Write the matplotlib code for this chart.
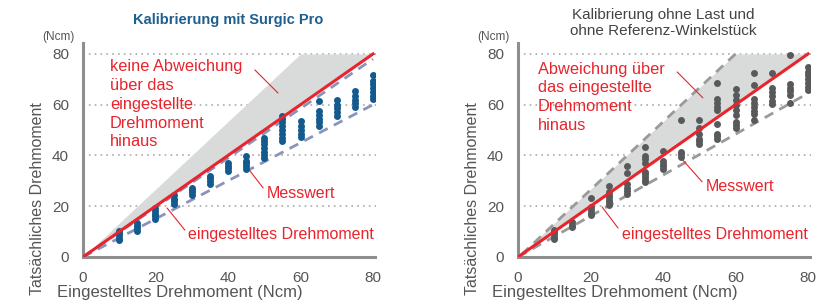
import numpy as np
import matplotlib
matplotlib.use("Agg")
import matplotlib.pyplot as plt

plt.rcParams['font.family'] = ['Liberation Sans', 'DejaVu Sans']

# ---- data ----
set_torque = [10, 15, 20, 25, 30, 35, 40, 45, 50, 55, 60, 65, 70, 75, 80]

# Kalibrierung mit Surgic Pro (blue points)
surgic_vals = [
    [6.5, 7.5, 8.5, 9.5, 10.2],
    [10.3, 11.3, 12.3, 13.5],
    [14.8, 16.0, 17.0, 18.0, 19.3],
    [21.0, 22.0, 23.0, 24.3],
    [24.3, 25.5, 26.5, 27.2],
    [28.9, 30.0, 31.0, 31.8],
    [33.9, 35.0, 36.0, 37.2],
    [34.8, 36.0, 37.0, 38.0, 39.6],
    [39.0, 40.2, 41.5, 43.0, 44.5, 45.5, 46.8],
    [45.8, 47.0, 48.5, 50.0, 51.5, 53.0, 54.2, 55.6],
    [47.2, 48.5, 50.0, 51.5, 53.7],
    [51.8, 53.0, 54.5, 56.0, 57.5, 61.5],
    [55.7, 57.0, 58.5, 60.0, 61.8],
    [59.0, 60.5, 62.0, 63.4, 65.5],
    [62.3, 63.5, 65.0, 66.5, 68.0, 69.5, 71.7],
]

# Kalibrierung ohne Last und ohne Referenz-Winkelstueck (grey points)
noload_vals = [
    [7.0, 8.0, 9.0, 10.0, 10.6],
    [11.8, 12.6, 13.6],
    [16.6, 17.5, 18.5, 19.5, 23.2],
    [20.5, 21.5, 22.5, 23.5, 24.5, 25.5, 27.8],
    [24.8, 26.0, 27.0, 28.6, 33.0, 35.8],
    [29.5, 30.5, 31.5, 32.5, 33.3, 37.0, 38.6, 39.8, 43.5],
    [34.7, 35.7, 36.7, 37.7, 41.8],
    [39.4, 40.5, 41.2, 54.0],
    [44.5, 45.5, 46.5, 48.5, 50.8, 54.0],
    [46.5, 47.5, 48.5, 52.3, 57.9, 59.0, 60.5, 62.1, 68.5],
    [51.0, 52.0, 53.2, 56.0, 58.0, 60.0, 62.0, 64.0, 66.0],
    [54.0, 56.3, 57.5, 59.0, 60.5, 62.2, 67.6, 72.5],
    [60.2, 61.5, 63.5, 65.0, 66.7, 72.5],
    [60.8, 64.0, 65.2, 66.5, 68.0, 79.7],
    [65.8, 67.0, 68.5, 70.0, 71.5, 73.0, 74.7],
]

ideal = [0, 80]
# tolerance band lines (x, y)
surgic_upper_x, surgic_upper_y = [0, 80], [0, 78]
surgic_lower_x, surgic_lower_y = [0, 80], [0, 60]
shade_x = [0, 60, 80]
shade_bottom = [0, 60, 80]
shade_top = [0, 80, 80]
noload_upper_x, noload_upper_y = [1, 60], [1, 80]
noload_lower_x, noload_lower_y = [0, 80], [0, 64.5]

RED = '#e8242c'
BLUE = '#135a8f'
DGREY = '#58595b'
SPINE = '#8e8e8e'
TXT = '#555555'

fig = plt.figure(figsize=(8.2, 3.05), dpi=100)
ax1 = fig.add_axes([0.1012, 0.1574, 0.3559, 0.7016])
ax2 = fig.add_axes([0.6317, 0.1574, 0.3559, 0.7016])


def style(ax):
    ax.set_xlim(0, 80.5)
    ax.set_ylim(0, 84.3)
    for s in ['top', 'right']:
        ax.spines[s].set_visible(False)
    for s in ['left', 'bottom']:
        ax.spines[s].set_color(SPINE)
        ax.spines[s].set_linewidth(2.2)
    ax.set_xticks([0, 20, 40, 60, 80])
    ax.set_yticks([0, 20, 40, 60, 80])
    ax.tick_params(length=0, labelsize=11, labelcolor=TXT, pad=10)
    for g in [20, 40, 60, 80]:
        ax.plot([0, 80.8], [g, g], color='#aaaaaa', lw=1.2,
                ls=(0, (1, 2.5)), zorder=1, clip_on=False)
    ax.text(-0.083, 1.0, '(Ncm)', transform=ax.transAxes, fontsize=8.5,
            color=TXT, ha='center', va='bottom')


def points(ax, vals, color):
    xs, ys = [], []
    for x, col in zip(set_torque, vals):
        xs += [x] * len(col)
        ys += col
    ax.scatter(xs, ys, s=25, color=color, zorder=4, linewidths=0)


def leader(ax, start, end):
    ax.annotate('', xy=end, xytext=start,
                arrowprops=dict(arrowstyle='-', color=RED, lw=0.8,
                                shrinkA=0, shrinkB=0))


# ---- left chart ----
style(ax1)
ax1.fill_between(shade_x, shade_bottom, shade_top,
                 color='#d9dada', lw=0, zorder=2)
ax1.plot(surgic_upper_x, surgic_upper_y, color='#8b93bc', lw=2,
         ls=(0, (3.5, 2.5)), zorder=3)
ax1.plot(surgic_lower_x, surgic_lower_y, color='#8b93bc', lw=2,
         ls=(0, (3.5, 2.5)), zorder=3)
points(ax1, surgic_vals, BLUE)
ax1.plot(ideal, ideal, color=RED, lw=2.2, zorder=5)
leader(ax1, (47.4, 73.7), (53.8, 64.6))
ax1.text(7.4, 78.0, 'keine Abweichung\nüber das\neingestellte\nDrehmoment\nhinaus',
         color=RED, fontsize=11.8, ha='left', va='top', linespacing=1.32,
         zorder=6)
leader(ax1, (49.7, 27.2), (45.2, 35.5))
ax1.text(50.8, 25.2, 'Messwert', color=RED, fontsize=11.5, va='center')
leader(ax1, (28.1, 10.6), (23.2, 19.3))
ax1.text(29.0, 8.7, 'eingestelltes Drehmoment', color=RED, fontsize=11.5,
         va='center')

# ---- right chart ----
style(ax2)
ax2.fill_between(shade_x, shade_bottom, shade_top,
                 color='#d9dada', lw=0, zorder=2)
ax2.plot(noload_upper_x, noload_upper_y, color='#9a9a9a', lw=2,
         ls=(0, (3.5, 2.5)), zorder=3)
ax2.plot(noload_lower_x, noload_lower_y, color='#9a9a9a', lw=2,
         ls=(0, (3.5, 2.5)), zorder=3)
points(ax2, noload_vals, DGREY)
ax2.plot(ideal, ideal, color=RED, lw=2.2, zorder=5)
leader(ax2, (43.9, 72.9), (51.0, 62.7))
ax2.text(5.5, 77.0, 'Abweichung über\ndas eingestellte\nDrehmoment\nhinaus',
         color=RED, fontsize=11.8, ha='left', va='top', linespacing=1.32,
         zorder=6)
leader(ax2, (50.8, 29.6), (45.2, 38.6))
ax2.text(51.9, 27.6, 'Messwert', color=RED, fontsize=11.5, va='center')
leader(ax2, (27.6, 11.4), (23.2, 19.7))
ax2.text(28.7, 8.7, 'eingestelltes Drehmoment', color=RED, fontsize=11.5,
         va='center')

# titles
fig.text(228 / 820, 1 - 20 / 305, 'Kalibrierung mit Surgic Pro',
         fontsize=10.5, color='#1f5f8f', fontweight='bold',
         ha='center', va='center')
fig.text(663 / 820, 1 - 15 / 305, 'Kalibrierung ohne Last und',
         fontsize=11, color='#444444', ha='center', va='center')
fig.text(663 / 820, 1 - 31 / 305, 'ohne Referenz-Winkelstück',
         fontsize=11, color='#444444', ha='center', va='center')

# axis labels (placed as in the original, not centred on the axes)
for xc, xl in [(38, 180), (473, 615)]:
    fig.text(xc / 820, 1 - 199 / 305, 'Tatsächliches Drehmoment', rotation=90,
             fontsize=11.5, color=TXT, ha='center', va='center')
    fig.text(xl / 820, 1 - 292 / 305, 'Eingestelltes Drehmoment (Ncm)',
             fontsize=12, color=TXT, ha='center', va='center')

fig.savefig('out.png', dpi=100)
